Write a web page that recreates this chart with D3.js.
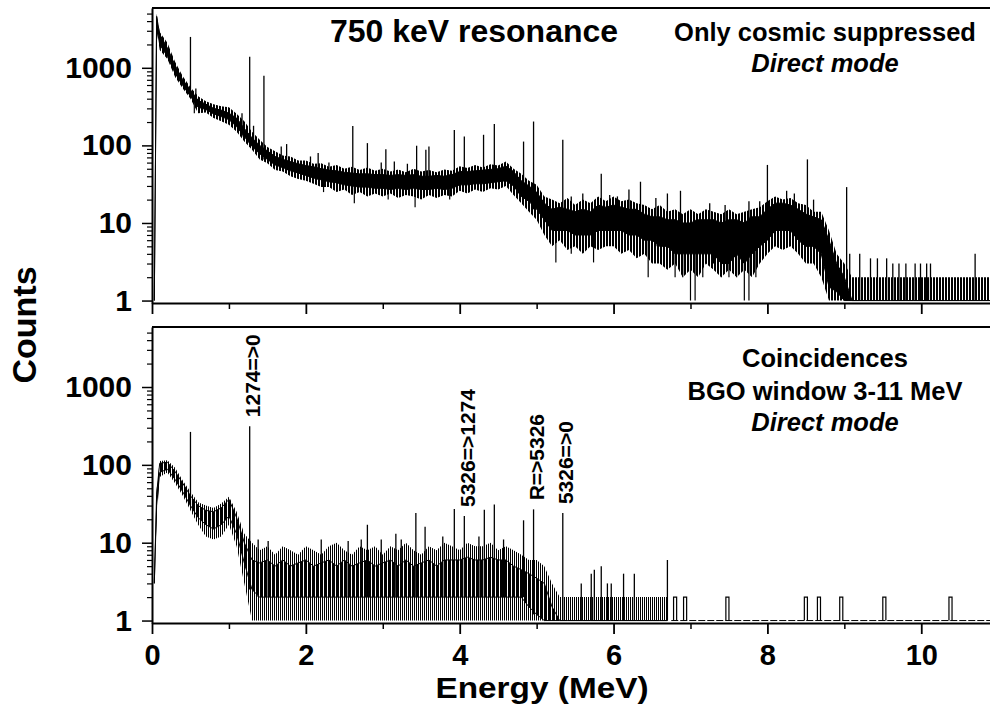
<!DOCTYPE html>
<html>
<head>
<meta charset="utf-8">
<script src="https://cdn.jsdelivr.net/npm/d3@7"></script>
<style>
  body { margin: 0; background: #fff; }
  text { font-family: "Liberation Sans", Arial, sans-serif; font-weight: bold; }
</style>
</head>
<body>
<svg id="chart"></svg>
<script>
const W = 990, H = 706;

// energy grid (MeV): two lead-in points for the threshold edge, then every 0.1 MeV
const energyGrid = [0.03, 0.06].concat(d3.range(1, 110).map(i => i / 10));

// upper panel, only cosmic suppressed: dense core (lo..hi) and noise extent (min..max)
const topLo = [1, 3500,
  2000, 1400, 850, 590, 430, 310, 290, 255, 235,
  215, 175, 130, 97, 78, 66, 56, 52, 47, 44,
  41, 38, 36, 34, 33, 31, 30, 29, 29, 28,
  28, 27, 28, 27, 28, 27, 27, 28, 27, 28,
  31, 31, 32, 32, 33, 34, 35, 30, 22, 19,
  15, 11, 8, 8, 8, 7, 7, 7, 8, 8,
  8, 8, 7, 7, 6, 6, 5, 5, 4, 4,
  4, 4, 4, 4, 3, 3, 4, 3, 4, 5,
  6, 8, 8, 8, 6, 5, 5, 4, 1.5, 1.3,
  1, 1, 1, 1, 1, 1, 1, 1, 1, 1,
  1, 1, 1, 1, 1, 1, 1, 1, 1, 1];
const topHi = [1, 4600,
  2700, 1800, 1080, 700, 520, 380, 340, 300, 285,
  260, 225, 165, 125, 100, 85, 72, 66, 62, 58,
  55, 53, 50, 48, 47, 45, 44, 43, 43, 42,
  42, 41, 42, 41, 42, 40, 40, 41, 40, 42,
  46, 46, 47, 48, 49, 50, 54, 46, 35, 30,
  25, 18, 15, 16, 15, 14, 15, 14, 17, 16,
  17, 16, 15, 15, 13, 12, 12, 11, 11, 10,
  10, 11, 11, 11, 10, 11, 11, 10, 12, 12,
  15, 18, 18, 17, 15, 13, 12, 11, 6, 3,
  2, 1, 1, 1, 1, 1, 1, 1, 1, 1,
  1, 1, 1, 1, 1, 1, 1, 1, 1, 1];
const topMin = [1, 3000,
  1700, 1300, 760, 540, 400, 260, 265, 225, 205,
  185, 150, 112, 88, 66, 59, 48, 46, 40, 37,
  35, 32, 29, 29, 25, 27, 23, 25, 22, 24,
  22, 24, 21, 23, 22, 20, 23, 21, 23, 22,
  26, 24, 27, 25, 28, 27, 30, 23, 18, 14,
  11, 7, 5, 6, 4.5, 5, 4, 5, 4.5, 5,
  5, 4, 4.5, 3.5, 4, 3, 3, 2.5, 3, 2,
  2.5, 2, 3, 2.5, 2, 2.5, 2, 2.5, 2, 3,
  4, 5, 4.5, 5, 4, 3, 3, 2, 1, 1,
  1, 1, 1, 1, 1, 1, 1, 1, 1, 1,
  1, 1, 1, 1, 1, 1, 1, 1, 1, 1];
const topMax = [1, 5000,
  2900, 2100, 1200, 780, 560, 430, 370, 340, 320,
  310, 255, 205, 150, 118, 95, 84, 74, 72, 64,
  64, 58, 59, 53, 56, 50, 53, 48, 52, 47,
  50, 46, 49, 45, 50, 46, 48, 45, 49, 47,
  54, 51, 56, 52, 57, 55, 62, 50, 43, 35,
  31, 22, 20, 18, 21, 17, 20, 18, 22, 19,
  22, 19, 20, 18, 17, 15, 17, 14, 15, 13,
  15, 13, 15, 14, 13, 15, 13, 14, 15, 16,
  19, 22, 20, 21, 18, 17, 14, 14, 8, 4,
  3, 2, 2, 2, 2, 2, 2, 2, 2, 2,
  2, 2, 2, 2, 2, 2, 2, 2, 2, 2];
// [energy MeV, counts]
const topPeaks = [[0.5, 2500], [0.57, 540], [1.17, 260], [1.27, 1390], [1.32, 179], [1.455, 790],
  [1.68, 97], [1.75, 104], [2.06, 72], [2.16, 80], [2.3, 60], [2.61, 178], [2.8, 107],
  [2.98, 60], [3.04, 89], [3.15, 62], [3.32, 58], [3.44, 99],
  [3.56, 88], [3.6, 97], [3.93, 158], [4.06, 130], [4.31, 137], [4.45, 188], [4.83, 112],
  [4.96, 203], [5.34, 118], [5.45, 22], [5.6, 24], [5.84, 43], [5.95, 23], [6.05, 22],
  [6.2, 27], [6.35, 34], [6.55, 21], [6.7, 24], [6.87, 26], [7.25, 18], [7.45, 17],
  [7.76, 19], [7.9, 19], [8.0, 56], [8.25, 26], [8.35, 24], [8.52, 66], [8.6, 20],
  [9.03, 29], [9.07, 4], [9.2, 4],
  [9.34, 3.5], [9.43, 3.5], [9.55, 3.5], [9.63, 3], [9.71, 3], [9.8, 3], [9.92, 3],
  [9.99, 3], [10.07, 3], [10.12, 3], [10.7, 4]];
const topDips = [[0.55, 260], [2.23, 25], [2.63, 18], [3.07, 20], [3.42, 16], [3.87, 20],
  [5.25, 3.1], [5.45, 4], [5.74, 3.1], [6.45, 2], [6.8, 2], [6.9, 2], [7.0, 1], [7.06, 1],
  [7.16, 2], [7.3, 3], [7.4, 2], [7.5, 2], [7.6, 2], [7.7, 1], [7.76, 1], [7.85, 2]];

// lower panel, coincidences: same layout, no counts above 6.7 MeV except isolated events
const botLo = [3, 30,
  80, 88, 65, 45, 30, 21, 17, 15, 17,
  22, 13, 5.5, 2.5, 2, 2, 2, 2, 2, 2,
  2, 2, 2, 2, 2, 2, 2, 2, 2, 2,
  2, 2, 2, 2, 2, 2, 2, 2, 2, 2,
  2, 2, 2, 2, 2, 2, 2, 2, 2, 1.5,
  1.2, 1, 1, 1, 1, 1, 1, 1, 1, 1,
  1, 1, 1, 1, 1, 1, 1, 1];
const botHi = [3, 42,
  105, 108, 82, 58, 40, 30, 26, 25, 28,
  36, 21, 10, 6, 5.5, 6, 5, 6, 5, 5.5,
  6, 5, 5.5, 6, 5, 6, 5, 5.5, 6, 5,
  5.5, 6, 5, 6, 5, 5.5, 6, 5, 6, 6,
  6, 6.5, 6, 6, 6.5, 6, 6, 5, 4.5, 4,
  3.5, 3, 1.5, 1, 1, 1, 1, 1, 1, 1,
  1, 1, 1, 1, 1, 1, 1, 1];
const botMin = [3, 20,
  70, 80, 58, 40, 26, 17, 12, 11, 12,
  17, 9, 3, 1, 1, 1, 1, 1, 1, 1,
  1, 1, 1, 1, 1, 1, 1, 1, 1, 1,
  1, 1, 1, 1, 1, 1, 1, 1, 1, 1,
  1, 1, 1, 1, 1, 1, 1, 1, 1, 1,
  1, 1, 1, 1, 1, 1, 1, 1, 1, 1,
  1, 1, 1, 1, 1, 1, 1, 1];
const botMax = [3, 48,
  112, 115, 92, 63, 45, 33, 30, 28, 32,
  39, 25, 13, 10, 8, 9, 7, 9, 8, 7,
  9, 8, 7, 9, 10, 8, 7, 9, 8, 9,
  7, 9, 8, 10, 8, 7, 9, 8, 10, 9,
  8, 10, 9, 9, 10, 8, 9, 8, 7, 6,
  6, 5, 3, 2, 2, 2, 2, 2, 2, 2,
  2, 2, 2, 2, 2, 2, 2, 2];
const botPeaks = [[0.5, 265], [1.27, 314], [1.38, 11], [1.51, 10.5], [2.2, 11], [2.55, 10.5],
  [2.72, 11], [2.8, 17], [2.98, 11], [3.17, 13], [3.24, 11], [3.43, 24], [3.55, 16],
  [3.78, 12], [3.93, 27], [4.06, 22], [4.25, 12], [4.32, 26.5], [4.45, 31], [4.57, 11],
  [4.83, 19.4], [4.96, 26.8], [5.34, 24], [5.58, 3], [5.71, 4], [5.75, 4.5], [5.84, 5],
  [5.92, 3], [5.97, 3], [6.13, 4], [6.27, 4], [6.7, 6]];
const botPulses = [6.8, 6.93, 7.48, 8.5, 8.67, 8.96, 9.52, 10.38]; // single 2-count channels
const botPulseCounts = [2, 2, 2, 2, 2, 2, 2, 2];

const lineLabels = ["1274=>0", "5326=>1274", "R=>5326", "5326=>0"];
const lineEnergies = [1.27, 4.06, 4.96, 5.34];

const countTicks = [1, 10, 100, 1000];
const energyTicks = [0, 2, 4, 6, 8, 10];

const svg = d3.select("#chart").attr("width", W).attr("height", H);
const defs = svg.append("defs");

// vertical hatching stands in for the unresolved channel-to-channel noise
function comb(id, period, on) {
  const p = defs.append("pattern").attr("id", id)
    .attr("patternUnits", "userSpaceOnUse")
    .attr("width", period).attr("height", 10);
  p.append("rect").attr("width", on).attr("height", 10).attr("fill", "#000");
}
comb("combCore", 4, 3);
comb("combDense", 3, 2);
comb("combSparse", 2, 1);

const x = d3.scaleLinear().domain([0, 10.9]).range([152, 990.5]);

const panels = [
  { top: 8, bottom: 303, lo: topLo, hi: topHi, min: topMin, max: topMax,
    peaks: topPeaks, dips: topDips, coreFill: "#000", outerFill: "url(#combDense)", labels: false },
  { top: 327, bottom: 623, lo: botLo, hi: botHi, min: botMin, max: botMax,
    peaks: botPeaks, dips: [], coreFill: "url(#combCore)", outerFill: "url(#combSparse)", labels: true }
];

const minorCounts = [];
[1, 10, 100, 1000].forEach(d => { for (let k = 2; k <= 9; k++) if (d * k < 5900) minorCounts.push(d * k); });
const minorEnergy = [1, 3, 5, 7, 9];

panels.forEach((p, pi) => {
  const y = d3.scaleLog().domain([0.93, 5900]).range([p.bottom, p.top]);
  const clipId = "clip" + pi;
  defs.append("clipPath").attr("id", clipId)
    .append("rect").attr("x", 152).attr("y", p.top)
    .attr("width", 990 - 152).attr("height", p.bottom - p.top);

  const g = svg.append("g").attr("clip-path", `url(#${clipId})`);
  const idx = d3.range(energyGrid.length).filter(i => p.lo[i] != null);

  const outer = d3.area()
    .x(i => x(energyGrid[i]))
    .y0(i => y(p.min[i]))
    .y1(i => y(p.max[i]));
  const core = d3.area()
    .x(i => x(energyGrid[i]))
    .y0(i => y(p.lo[i]))
    .y1(i => y(p.hi[i]));

  g.append("path").datum(idx).attr("d", outer).attr("fill", p.outerFill);
  g.append("path").datum(idx).attr("d", core)
    .attr("fill", p.coreFill).attr("stroke", "#000").attr("stroke-width", 1);

  const nearest = e => d3.bisectCenter(energyGrid, e);
  g.selectAll(".peak").data(p.peaks).join("line")
    .attr("class", "peak")
    .attr("x1", d => x(d[0])).attr("x2", d => x(d[0]))
    .attr("y1", d => y(d[1]))
    .attr("y2", d => y(p.lo[nearest(d[0])] ?? 1))
    .attr("stroke", "#000").attr("stroke-width", 1.3);
  g.selectAll(".dip").data(p.dips).join("line")
    .attr("class", "dip")
    .attr("x1", d => x(d[0])).attr("x2", d => x(d[0]))
    .attr("y1", d => y(d[1]))
    .attr("y2", d => y(p.hi[nearest(d[0])] ?? 1))
    .attr("stroke", "#000").attr("stroke-width", 1.2);

  if (p.labels) {
    // empty channels above 6.7 MeV sit on the lowest decade
    g.append("line")
      .attr("x1", x(6.75)).attr("x2", x(10.9))
      .attr("y1", y(1)).attr("y2", y(1))
      .attr("stroke", "#000").attr("stroke-width", 1)
      .attr("stroke-dasharray", "7,2");
    const w = 0.04;
    g.selectAll(".pulse").data(botPulses).join("path")
      .attr("class", "pulse")
      .attr("d", (e, i) => `M${x(e - w / 2)},${y(1)}V${y(botPulseCounts[i])}H${x(e + w / 2)}V${y(1)}`)
      .attr("fill", "none").attr("stroke", "#000").attr("stroke-width", 1.2);

    svg.selectAll(".lineLabel").data(lineLabels).join("text")
      .attr("class", "lineLabel")
      .attr("transform", (t, i) => {
        const pk = botPeaks.find(d => Math.abs(d[0] - lineEnergies[i]) < 0.02);
        return `translate(${x(lineEnergies[i]) + 3},${y(pk[1]) - 9}) rotate(-90)`;
      })
      .attr("dy", "0.35em")
      .attr("font-size", 21)
      .text(t => t);
  }

  // frame line on top
  svg.append("line").attr("x1", 152).attr("x2", 990).attr("y1", p.top).attr("y2", p.top)
    .attr("stroke", "#000").attr("stroke-width", 2);

  // y axis
  svg.append("g").attr("transform", "translate(152,0)")
    .call(d3.axisLeft(y).tickValues(minorCounts).tickSize(5).tickFormat("").tickSizeOuter(0))
    .call(a => a.select(".domain").remove())
    .selectAll("line").attr("stroke-width", 1.2);
  const gy = svg.append("g").attr("transform", "translate(152,0)")
    .call(d3.axisLeft(y).tickValues(countTicks).tickSize(10).tickPadding(10)
      .tickFormat(d3.format("d")).tickSizeOuter(0));
  gy.attr("font-size", 30).attr("font-family", null);
  gy.select(".domain").attr("stroke-width", 2);
  gy.selectAll("line").attr("stroke-width", 1.5);

  // x axis
  svg.append("g").attr("transform", `translate(0,${p.bottom})`)
    .call(d3.axisBottom(x).tickValues(minorEnergy).tickSize(6).tickFormat("").tickSizeOuter(0))
    .call(a => a.select(".domain").remove())
    .selectAll("line").attr("stroke-width", 1.5);
  const gx = svg.append("g").attr("transform", `translate(0,${p.bottom})`)
    .call(d3.axisBottom(x).tickValues(energyTicks).tickSize(11).tickPadding(10)
      .tickFormat(p.labels ? d3.format("d") : "").tickSizeOuter(0));
  gx.attr("font-size", 29).attr("font-family", null);
  gx.select(".domain").attr("stroke-width", 2);
  gx.selectAll("line").attr("stroke-width", 1.8);
});

// titles and notes
function note(tx, ty, s, size, italic) {
  svg.append("text").attr("x", tx).attr("y", ty)
    .attr("text-anchor", "middle").attr("font-size", size)
    .attr("font-style", italic ? "italic" : null).text(s);
}
note(474, 42, "750 keV resonance", 32);
note(825, 41, "Only cosmic suppressed", 25.5);
note(825, 72, "Direct mode", 25.5, true);
note(825, 367, "Coincidences", 25.5);
note(825, 400, "BGO window 3-11 MeV", 25.5);
note(825, 431, "Direct mode", 25.5, true);

svg.append("text").attr("transform", "translate(542,698) scale(1.15,1)")
  .attr("text-anchor", "middle").attr("font-size", 29).text("Energy (MeV)");
svg.append("text").attr("transform", "translate(36,325) rotate(-90)")
  .attr("text-anchor", "middle").attr("font-size", 34).text("Counts");
</script>
</body>
</html>
